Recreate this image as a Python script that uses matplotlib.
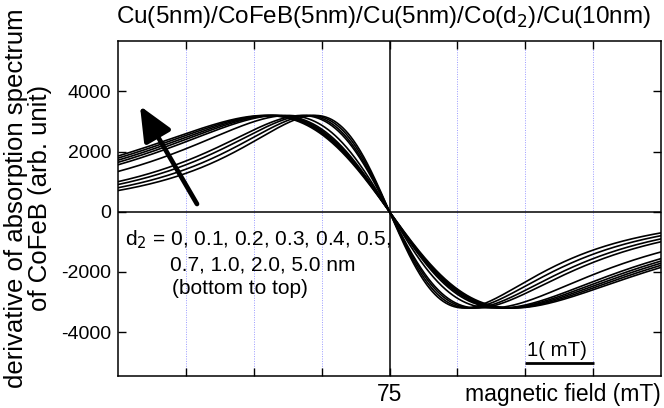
import numpy as np
import matplotlib
matplotlib.use("Agg")
import matplotlib.pyplot as plt

plt.rcParams['font.family'] = ['Liberation Sans', 'DejaVu Sans']

# ---- data ----
d2_values = [0, 0.1, 0.2, 0.3, 0.4, 0.5, 0.7, 1.0, 2.0, 5.0]        # nm, bottom to top
linewidths = [1.90, 2.01, 2.13, 2.235, 2.60, 2.84, 2.93, 3.01, 3.09, 3.17]  # mT (HWHM)
resonance_field = 75.0   # mT
peak_amplitude = 3200.0  # arb. unit
field_min, field_max = 71.0, 79.0
x_ticks = [72, 73, 74, 75, 76, 77, 78]
y_ticks = [-4000, -2000, 0, 2000, 4000]

field = np.linspace(field_min, field_max, 801)

def lorentz_derivative(h, h0, gamma, amp):
    u = (h - h0) / gamma
    g = u / (1 + u**2) ** 2
    return -amp * g / (3 * np.sqrt(3) / 16)

W, H = 664, 408
fig = plt.figure(figsize=(W / 100, H / 100), dpi=100)
L, R, T, B = 118, 661, 40.5, 376
ax = fig.add_axes([L / W, 1 - B / H, (R - L) / W, (B - T) / H])

# grid
for xt in x_ticks:
    if xt == 75:
        ax.axvline(xt, color='black', lw=1.1, zorder=1)
    else:
        ax.axvline(xt, color='#9a9aff', lw=0.7, ls=(0, (1, 1.5)), zorder=1)
ax.axhline(0, color='black', lw=1.1, zorder=1)

for gamma in linewidths:
    ax.plot(field, lorentz_derivative(field, resonance_field, gamma, peak_amplitude),
            color='black', lw=1.2, zorder=3)

ax.set_xlim(field_min, field_max)
ax.set_ylim(-5460, 5690)
ax.set_xticks(x_ticks)
ax.set_xticklabels(['75' if t == 75 else '' for t in x_ticks])
ax.set_yticks(y_ticks)
ax.set_yticklabels([str(t) for t in y_ticks])
ax.tick_params(axis='both', direction='in', length=6, width=1.0,
               top=True, right=True, color='black')
ax.tick_params(axis='y', pad=5, labelsize=14)
ax.tick_params(axis='x', pad=5, labelsize=16.5)
for s in ax.spines.values():
    s.set_linewidth(1.1)

# x label on the tick-label line
ax.text(1.0, -19 / (B - T), 'magnetic field (mT)', transform=ax.transAxes,
        ha='right', va='center', fontsize=16.5)

# y label (two lines)
fig.text(28 / W, 1 - 198 / H, 'derivative of absorption spectrum\nof CoFeB (arb. unit)',
         rotation=90, ha='center', va='center', fontsize=18.5, multialignment='center',
         linespacing=1.05)

# title
fig.text(384 / W, 1 - 17 / H, 'Cu(5nm)/CoFeB(5nm)/Cu(5nm)/Co(d$_2$)/Cu(10nm)',
         ha='center', va='center', fontsize=17.5)

# annotation text
def px2data(px, py):
    xd = field_min + (px - L) / (R - L) * (field_max - field_min)
    yd = ax.get_ylim()[1] - (py - T) / (B - T) * (ax.get_ylim()[1] - ax.get_ylim()[0])
    return xd, yd

x1, y1 = px2data(125, 240)
ax.text(x1, y1, 'd$_2$ = 0, 0.1, 0.2, 0.3, 0.4, 0.5,', ha='left', va='center', fontsize=15)
x2, y2 = px2data(170, 265)
ax.text(x2, y2, '0.7, 1.0, 2.0, 5.0 nm', ha='left', va='center', fontsize=15)
x3, y3 = px2data(172, 289)
ax.text(x3, y3, '(bottom to top)', ha='left', va='center', fontsize=15)

# arrow
tail = px2data(197, 204)
tip = px2data(140, 106)
ax.annotate('', xy=tip, xytext=tail,
            arrowprops=dict(arrowstyle='-|>,head_length=0.95,head_width=0.42',
                            lw=3.4, color='black', mutation_scale=22,
                            shrinkA=0, shrinkB=0))

# scale bar
bx0, by = px2data(525, 363)
bx1, _ = px2data(594, 363)
ax.plot([bx0, bx1], [by, by], color='black', lw=2.0, solid_capstyle='butt')
tx, ty = px2data(557, 351)
ax.text(tx, ty, '1( mT)', ha='center', va='center', fontsize=14.7)

fig.savefig('out.png', dpi=100)
